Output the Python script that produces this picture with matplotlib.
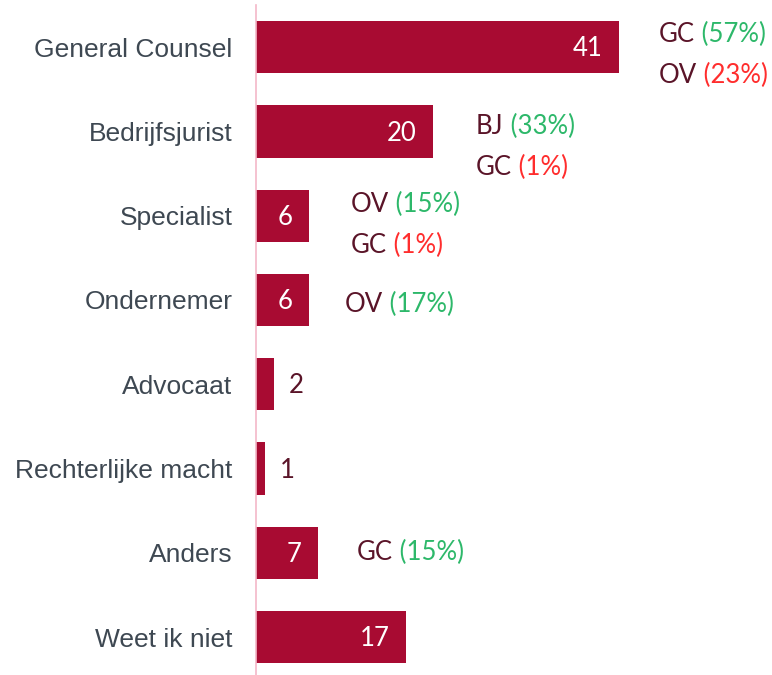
import matplotlib
matplotlib.use("Agg")
import matplotlib.pyplot as plt
from matplotlib.transforms import offset_copy

categories = ["General Counsel", "Bedrijfsjurist", "Specialist", "Ondernemer",
              "Advocaat", "Rechterlijke macht", "Anders", "Weet ik niet"]
values = [41, 20, 6, 6, 2, 1, 7, 17]
# annotations: list of (group, percent, sign) per bar
notes = [
    [("GC", "(57%)", "+"), ("OV", "(23%)", "-")],
    [("BJ", "(33%)", "+"), ("GC", "(1%)", "-")],
    [("OV", "(15%)", "+"), ("GC", "(1%)", "-")],
    [("OV", "(17%)", "+")],
    [],
    [],
    [("GC", "(15%)", "+")],
    [],
]
# layout of annotation blocks: (x offset px from bar end, first-line centre offset px from bar centre)
note_layout = [(40, -14), (43, -7), (42, -13), (36, 3), (0, 0), (0, 0), (39, -2), (0, 0)]
LINE_PX = 41

BAR = "#A80B32"
NAME = "#5A1428"
GREEN = "#2DB86A"
RED = "#FF2D2D"
LABEL = "#3E4852"
AXIS = "#F4B8C8"

fig = plt.figure(figsize=(7.72, 6.75), dpi=100)
ax = fig.add_axes([256 / 772, 0, 516 / 772, 670 / 675])
y = list(range(len(categories)))
ax.barh(y, values, height=0.62, color=BAR)
ax.set_xlim(0, 516 / 8.85)
ax.set_ylim(len(categories) - 0.55, -0.5)
ax.set_yticks(y)
ax.set_yticklabels(categories, fontsize=19, color=LABEL, family="Liberation Sans")
ax.tick_params(axis="y", length=0, pad=17)
ax.set_xticks([])
for s in ["top", "right", "bottom"]:
    ax.spines[s].set_visible(False)
ax.spines["left"].set_color(AXIS)
ax.spines["left"].set_linewidth(1.2)

font = dict(family=["Lato", "DejaVu Sans"], fontweight="normal", fontsize=18.5)
CAP = 0.72 * 18.5 / 72 * 100  # cap height in px

for i, v in enumerate(values):
    if v >= 5:
        ax.annotate(str(v), xy=(v, i), xytext=(-12, -CAP / 2 * 0.72), textcoords="offset points",
                    ha="right", va="baseline", color="white", **font)
    else:
        ax.annotate(str(v), xy=(v, i), xytext=(11, -CAP / 2 * 0.72), textcoords="offset points",
                    ha="left", va="baseline", color=NAME, **font)

first_parts = []
for i, lst in enumerate(notes):
    dx, dy0 = note_layout[i]
    for k, (g, p, s) in enumerate(lst):
        dy_px = dy0 + k * LINE_PX + CAP / 2
        t = ax.annotate(g, xy=(values[i], i), xytext=(dx * 0.72, -dy_px * 0.72),
                        textcoords="offset points", ha="left", va="baseline",
                        color=NAME, **font)
        first_parts.append((t, p, s))

fig.canvas.draw()
r = fig.canvas.get_renderer()
for t, p, s in first_parts:
    bb = t.get_window_extent(r)
    x0, y0 = t.get_transform().transform(t.get_position())
    fig.text(bb.x1 / fig.bbox.width, y0 / fig.bbox.height, " " + p,
             ha="left", va="baseline", color=GREEN if s == "+" else RED, **font)

fig.savefig("out.png", dpi=100)
